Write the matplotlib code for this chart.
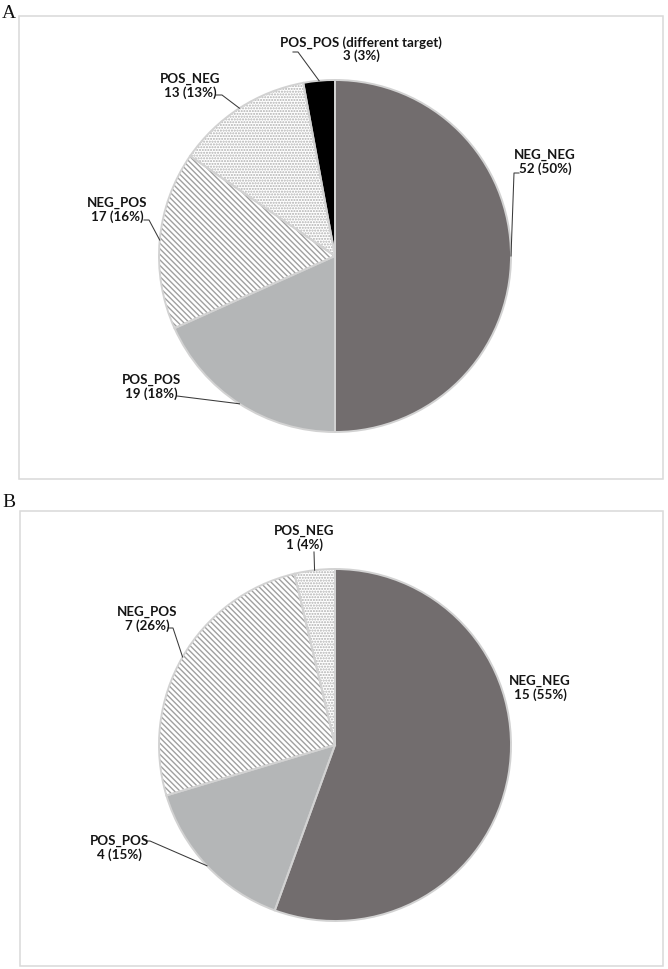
"""
Two pie charts (A, B) of concordance categories, drawn with matplotlib.
"""

import matplotlib
matplotlib.use("Agg")
import matplotlib.pyplot as plt
from matplotlib.patches import Rectangle, Wedge
import numpy as np

matplotlib.rcParams.update({
    "font.family":     ["Lato", "DejaVu Sans"],
    "hatch.linewidth": 1.0,
    "figure.facecolor": "white",
})

# ---------------------------------------------------------------------------
# Data
# ---------------------------------------------------------------------------

CATS_A   = ["NEG_NEG", "POS_POS", "NEG_POS", "POS_NEG", "POS_POS (different target)"]
COUNTS_A = [52, 19, 17, 13, 3]
PCTS_A   = [50, 18, 16, 13, 3]

CATS_B   = ["NEG_NEG", "POS_POS", "NEG_POS", "POS_NEG"]
COUNTS_B = [15, 4, 7, 1]
PCTS_B   = [55, 15, 26, 4]

# fill colour, hatch, hatch colour per category
STYLE = {
    "NEG_NEG":                    ("#726d6e", None,   None),
    "POS_POS":                    ("#b4b6b7", None,   None),
    "NEG_POS":                    ("white",   "\\" * 6, "#a0a0a0"),
    "POS_NEG":                    ("white",   "." * 6, "#b0b0b0"),
    "POS_POS (different target)": ("black",   None,   None),
}

# ---------------------------------------------------------------------------
# Layout (pixel coordinates, y pointing down)
# ---------------------------------------------------------------------------

LAYOUT_A = {
    "letter": "A", "letter_xy": (2, 18.5),
    "box": (19, 17, 663, 480),
    "center": (335, 257), "radius": 176,
    "labels": {
        "NEG_NEG":                    ((545, 162), [(519, 174), (514, 174)]),
        "POS_POS":                    ((151, 387), [(177, 397)]),
        "NEG_POS":                    ((117, 210), [(144, 221), (149, 221)]),
        "POS_NEG":                    ((190, 86),  [(216, 96), (222, 96)]),
        "POS_POS (different target)": ((361, 49),  [(293, 53), (298, 53)]),
    },
}

LAYOUT_B = {
    "letter": "B", "letter_xy": (2, 507),
    "box": (20, 512, 663, 967),
    "center": (335, 746), "radius": 176,
    "labels": {
        "NEG_NEG": ((540, 688), None),
        "POS_POS": ((119, 848), [(146, 842), (150, 842)]),
        "NEG_POS": ((147, 619), [(168, 629), (173, 629)]),
        "POS_NEG": ((304, 538), [(314, 553)]),
    },
}


def draw_panel(ax, cats, counts, pcts, layout):
    x0, y0, x1, y1 = layout["box"]
    ax.add_patch(Rectangle((x0, y0), x1 - x0, y1 - y0, fill=False,
                           edgecolor="#d9d9d9", linewidth=1.1, zorder=0))
    lx, ly = layout["letter_xy"]
    ax.text(lx, ly, layout["letter"], fontsize=14, va="baseline", ha="left",
            family="Liberation Serif", color="#111111")

    # y axis is inverted, so counterclock + startangle -90 reads clockwise from 12 o'clock
    wedges, _ = ax.pie(counts, startangle=-90, counterclock=True,
                       center=layout["center"], radius=layout["radius"],
                       wedgeprops=dict(linewidth=0))

    for w, cat, n, p in zip(wedges, cats, counts, pcts):
        fc, hatch, hc = STYLE[cat]
        w.set_facecolor(fc)
        if hatch:
            w.set_hatch(hatch)
            w.set_edgecolor(hc)
        # outline on top
        ax.add_patch(Wedge(w.center, w.r, w.theta1, w.theta2, facecolor="none",
                           edgecolor="#d2d2d2", linewidth=1.4, zorder=3))

        (tx, ty), leader = layout["labels"][cat]
        ax.text(tx, ty, f"{cat}\n{n} ({p}%)", ha="center", va="center",
                multialignment="center", fontsize=9.6, fontweight="bold",
                color="#151515", linespacing=1.1, zorder=5)
        if leader:
            mid = np.deg2rad((w.theta1 + w.theta2) / 2)
            cx, cy = w.center
            tip = (cx + w.r * np.cos(mid), cy + w.r * np.sin(mid))
            pts = leader + [tip]
            ax.plot([q[0] for q in pts], [q[1] for q in pts],
                    color="#3a3a3a", linewidth=0.75, zorder=4)


fig = plt.figure(figsize=(6.68, 9.70), dpi=100)
ax = fig.add_axes([0, 0, 1, 1])

draw_panel(ax, CATS_A, COUNTS_A, PCTS_A, LAYOUT_A)
draw_panel(ax, CATS_B, COUNTS_B, PCTS_B, LAYOUT_B)

ax.set_xlim(0, 668)
ax.set_ylim(970, 0)
ax.set_aspect("equal")
ax.axis("off")

fig.savefig("out.png", dpi=100)
